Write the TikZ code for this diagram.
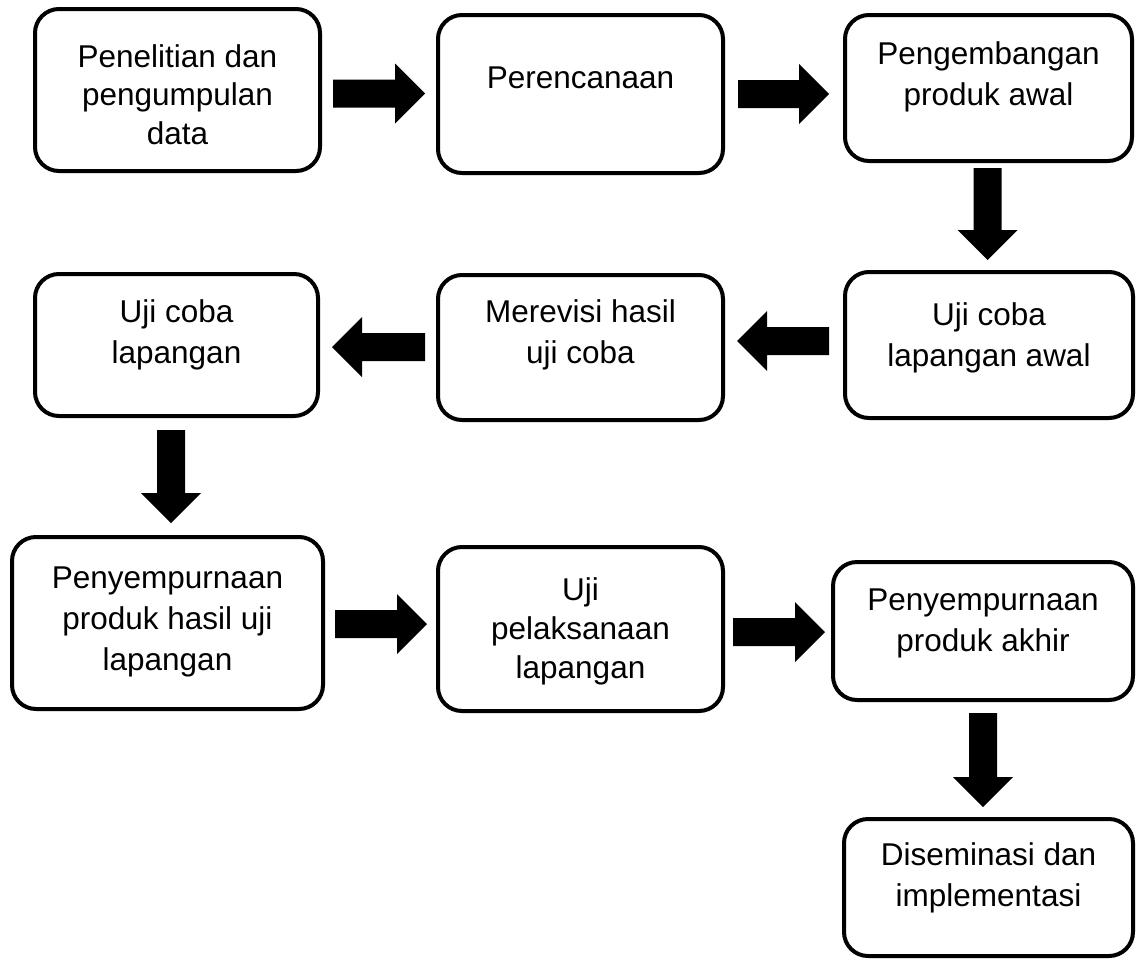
\documentclass[tikz,border=0pt]{standalone}
\usepackage{fontspec}
\setmainfont{Liberation Sans}
\usetikzlibrary{calc}
\newcommand\firstrule{\rule{0pt}{28pt}}
\newcommand\fatarrow[2]{%
  \coordinate (fa-s) at (#1);
  \coordinate (fa-e) at (#2);
  \coordinate (fa-b) at ($(fa-e)!30pt!(fa-s)$);
  \fill[black] ($(fa-s)!14pt!90:(fa-e)$) -- ($(fa-b)!14pt!-90:(fa-s)$)
    -- ($(fa-b)!30pt!-90:(fa-s)$) -- (fa-e) -- ($(fa-b)!30pt!90:(fa-s)$)
    -- ($(fa-b)!14pt!90:(fa-s)$) -- ($(fa-s)!14pt!-90:(fa-e)$) -- cycle;}
\begin{document}
\begin{tikzpicture}[x=1pt,y=-1pt,
  box/.style={draw=black, line width=4pt, rounded corners=24pt, fill=white,
    inner sep=0pt, outer sep=2pt},
  txt/.style={anchor=north, align=center, inner sep=0pt, outer sep=0pt,
    font=\fontsize{31.5}{41}\selectfont}]
\useasboundingbox (0,0) rectangle (1136,959);
% boxes
\node[box, minimum width=285pt, minimum height=162pt] (A) at (177.5,90) {};
\node[box, minimum width=285pt, minimum height=158pt] (B) at (580.5,94) {};
\node[box, minimum width=287pt, minimum height=146pt] (C) at (988.5,88) {};
\node[box, minimum width=288pt, minimum height=146pt] (D) at (989,345) {};
\node[box, minimum width=285pt, minimum height=145pt] (E) at (580.5,347.5) {};
\node[box, minimum width=283pt, minimum height=142pt] (F) at (176.5,345) {};
\node[box, minimum width=311pt, minimum height=172pt] (G) at (167.5,623) {};
\node[box, minimum width=285pt, minimum height=164pt] (H) at (580.5,629) {};
\node[box, minimum width=300pt, minimum height=138pt] (I) at (983,631) {};
\node[box, minimum width=289pt, minimum height=137pt] (J) at (988.5,887.5) {};
% texts
\node[txt, font=\fontsize{31.5}{38.5}\selectfont] (At) at ($(A.north)+(0,32)$) {\firstrule Penelitian dan\\pengumpulan\\data};
\node[txt] (Bt) at ($(B.north)+(0,47)$) {\firstrule Perencanaan};
\node[txt] (Ct) at ($(C.north)+(0,23)$) {\firstrule Pengembangan\\produk awal};
\node[txt] (Dt) at ($(D.north)+(0,27)$) {\firstrule Uji coba\\lapangan awal};
\node[txt] (Et) at ($(E.north)+(0,21)$) {\firstrule Merevisi hasil\\uji coba};
\node[txt] (Ft) at ($(F.north)+(0,22)$) {\firstrule Uji coba\\lapangan};
\node[txt] (Gt) at ($(G.north)+(0,25)$) {\firstrule Penyempurnaan\\produk hasil uji\\lapangan};
\node[txt, font=\fontsize{31.5}{39}\selectfont] (Ht) at ($(H.north)+(0,27)$) {\firstrule Uji\\pelaksanaan\\lapangan};
\node[txt] (It) at ($(I.north)+(0,22)$) {\firstrule Penyempurnaan\\produk akhir};
\node[txt] (Jt) at ($(J.north)+(0,20)$) {\firstrule Diseminasi dan\\implementasi};
% block arrows
\fatarrow{$(A.east)+(11,3.5)$}{$(B.west)+(-11,-0.5)$}
\fatarrow{$(B.east)+(13,0)$}{$(C.west)+(-14,6)$}
\fatarrow{$(C.south)+(-1,5)$}{$(D.north)+(-1.5,-10)$}
\fatarrow{$(D.west)+(-14,-4)$}{$(E.east)+(12,-6.5)$}
\fatarrow{$(E.west)+(-11,-0.5)$}{$(F.east)+(12,2)$}
\fatarrow{$(F.south)+(-5.5,12)$}{$(G.north)+(3.5,-12)$}
\fatarrow{$(G.east)+(10,1)$}{$(H.west)+(-9,-5)$}
\fatarrow{$(H.east)+(8,3)$}{$(I.west)+(-6,1)$}
\fatarrow{$(I.south)+(0,11)$}{$(J.north)+(-5.5,-10)$}
\end{tikzpicture}
\end{document}
